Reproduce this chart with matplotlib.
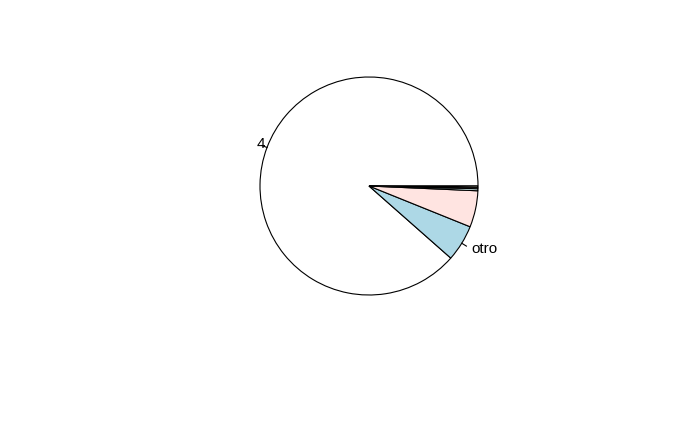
import numpy as np
import matplotlib
matplotlib.use("Agg")
import matplotlib.pyplot as plt

labels = ["4", "otro", "", "", "", ""]
values = [885, 54, 54, 3, 2, 2]
colors = ["white", "lightblue", "mistyrose", "lightcyan", "lavender", "cornsilk"]

plt.rcParams["font.family"] = ["Liberation Sans", "DejaVu Sans"]

fig = plt.figure(figsize=(7, 4.32), dpi=100)
ax = fig.add_axes([0, 0, 1, 1])

cx, cy, r = 369, 432 - 186, 109
wedges, texts = ax.pie(values, labels=labels, colors=colors, startangle=0,
                       counterclock=True, center=(cx, cy), radius=r,
                       labeldistance=1.1, frame=True,
                       wedgeprops=dict(edgecolor="black", linewidth=0.8),
                       textprops=dict(fontsize=11))
ax.set_xlim(0, 700)
ax.set_ylim(0, 432)
ax.set_aspect("equal")
ax.axis("off")

# tick marks like R's pie
for w, lab in zip(wedges, labels):
    if not lab:
        continue
    a = np.deg2rad((w.theta1 + w.theta2) / 2)
    ax.plot([cx + r * np.cos(a), cx + 1.05 * r * np.cos(a)],
            [cy + r * np.sin(a), cy + 1.05 * r * np.sin(a)],
            color="black", linewidth=0.8)

fig.savefig("out.png", dpi=100)
